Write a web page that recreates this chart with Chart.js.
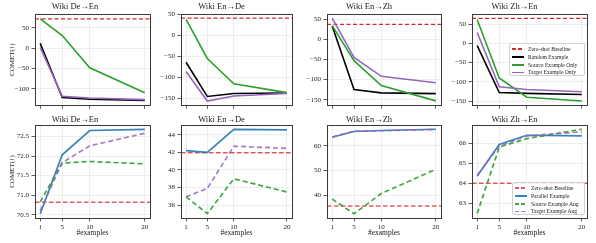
<!DOCTYPE html>
<html><head><meta charset="utf-8">
<script src="https://cdn.jsdelivr.net/npm/chart.js@4"></script>
<style>
html,body{margin:0;padding:0;background:#fff;}
#wrap{position:relative;width:596px;height:243px;overflow:hidden;font-family:'Liberation Serif',serif;}
canvas.pan{position:absolute;}
.leg{position:absolute;background:rgba(255,255,255,0.85);border:0.8px solid #d0d0d0;border-radius:2px;font-size:5.6px;color:#222;padding:1.2px 2px 0 2px;box-sizing:border-box;}
.leg div{display:flex;align-items:center;height:7.8px;white-space:nowrap;}
.leg .sw{display:inline-block;width:12px;height:1.8px;margin-right:4px;}
</style></head>
<body><div id="wrap"></div>
<script>
// ---- data ----
const X = [1, 5, 10, 20];
const titles = ['Wiki De→En', 'Wiki En→De', 'Wiki En→Zh', 'Wiki Zh→En'];
// top row: COMET with single-type examples
const zeroShotTop = [72, 40.5, 37, 64.6];
const randomEx   = [[12, -121, -125, -128], [-64, -145, -138, -137], [33, -125, -133, -135], [-6, -128, -130, -133]];
const sourceOnly = [[72, 31, -48, -109], [38, -55, -115, -136], [34, -53, -115, -153], [61, -90, -140, -150]];
const targetOnly = [[2, -118, -122, -126], [-86, -156, -144, -138], [53, -45, -92, -108], [28, -113, -120, -126]];
// bottom row: COMET with parallel / augmented examples
const zeroShotBottom = [70.82, 41.96, 35.8, 64.0];
const parallelEx = [[70.53, 72.03, 72.65, 72.68], [42.2, 42.0, 44.6, 44.55], [63.4, 65.7, 66.1, 66.6], [64.36, 65.93, 66.39, 66.36]];
const sourceAug  = [[70.83, 71.82, 71.86, 71.80], [36.95, 35.05, 39.0, 37.5], [38.6, 32.7, 40.8, 50.5], [62.49, 65.8, 66.22, 66.69]];
const targetAug  = [[70.61, 71.83, 72.26, 72.58], [36.95, 37.9, 42.7, 42.45], [63.5, 65.8, 66.0, 66.5], [64.4, 65.85, 66.36, 66.56]];
// axis ticks
const topYTicks = [[-100, -50, 0, 50], [-150, -100, -50, 0, 50], [-150, -100, -50, 0, 50], [-150, -100, -50, 0, 50]];
const botYTicks = [[70.5, 71.0, 71.5, 72.0, 72.5], [36, 38, 40, 42, 44], [40, 50, 60], [63, 64, 65, 66]];
const topYRange = [[-140, 84], [-166, 50.5], [-164, 63], [-161, 76]];
const botYRange = [[70.42, 72.79], [34.55, 45.1], [31.0, 68.3], [62.27, 66.9]];
const topLegend = ['Zero-shot Baseline', 'Random Example', 'Source Example Only', 'Target Example Only'];
const botLegend = ['Zero-shot Baseline', 'Parallel Example', 'Source Example Aug', 'Target Example Aug'];

// ---- layout ----
const FONT = "'Liberation Serif', serif";
const XMIN = 0.05, XMAX = 20.95;
const L = [35, 181, 327, 472], R = [150, 292, 441, 587];
const RED = '#d62728', GREEN = '#2ca02c', PURPLE = '#9467bd', BLUE = '#1f77b4', BLACK = '#000000';
const RED_A = 'rgba(214,39,40,0.75)', GREEN_A = 'rgba(44,160,44,0.9)', PURPLE_A = 'rgba(148,103,189,0.85)', BLUE_A = 'rgba(31,119,180,0.9)';
const wrap = document.getElementById('wrap');

const framePlugin = {
  id: 'frame',
  afterDraw(chart) {
    const a = chart.chartArea, c = chart.ctx;
    c.save(); c.strokeStyle = '#3a3a3a'; c.lineWidth = 1;
    c.strokeRect(Math.round(a.left) + 0.5, Math.round(a.top) + 0.5, Math.round(a.right - a.left), Math.round(a.bottom - a.top));
    c.restore();
  }
};

function pts(arr) { return X.map((x, i) => ({ x: x, y: arr[i] })); }

function makePanel(row, col) {
  const top = row === 0;
  const canvasLeft = col === 0 ? 0 : L[col] - 30;
  const yw = L[col] - canvasLeft;
  const w = R[col] - canvasLeft + 3;
  const ctop = top ? 0 : 113;
  const h = top ? 112 : 130;
  const xh = top ? h - 107 : 243 - 218;
  const cv = document.createElement('canvas');
  cv.className = 'pan';
  cv.width = w; cv.height = h;
  cv.style.left = canvasLeft + 'px'; cv.style.top = ctop + 'px';
  cv.style.width = w + 'px'; cv.style.height = h + 'px';
  wrap.appendChild(cv);

  const base = top ? zeroShotTop[col] : zeroShotBottom[col];
  let datasets;
  if (top) {
    datasets = [
      { label: topLegend[0], data: [{ x: XMIN, y: base }, { x: XMAX, y: base }], borderColor: RED, borderDash: [4, 2.5], borderWidth: 1.3, order: 4 },
      { label: topLegend[1], data: pts(randomEx[col]), borderColor: BLACK, borderWidth: 1.6, order: 3 },
      { label: topLegend[2], data: pts(sourceOnly[col]), borderColor: GREEN, borderWidth: 1.6, order: 2 },
      { label: topLegend[3], data: pts(targetOnly[col]), borderColor: PURPLE, borderWidth: 1.6, order: 1 }
    ];
  } else {
    datasets = [
      { label: botLegend[0], data: [{ x: XMIN, y: base }, { x: XMAX, y: base }], borderColor: RED_A, borderDash: [4.5, 2.5], borderWidth: 1.6, order: 4 },
      { label: botLegend[1], data: pts(parallelEx[col]), borderColor: BLUE_A, borderWidth: 1.7, order: 3 },
      { label: botLegend[2], data: pts(sourceAug[col]), borderColor: GREEN_A, borderDash: [5, 3], borderWidth: 1.7, order: 2 },
      { label: botLegend[3], data: pts(targetAug[col]), borderColor: PURPLE_A, borderDash: [5, 3], borderWidth: 1.7, order: 1 }
    ];
  }
  datasets.forEach(d => { d.pointRadius = 0; d.fill = false; d.tension = 0; d.backgroundColor = d.borderColor; });

  const yt = top ? topYTicks[col] : botYTicks[col];
  const yr = top ? topYRange[col] : botYRange[col];
  const dec = (!top && col === 0) ? 1 : 0;

  new Chart(cv, {
    type: 'line',
    data: { datasets: datasets },
    plugins: [framePlugin],
    options: {
      responsive: false, animation: false, devicePixelRatio: 1,
      layout: { padding: { left: 0, right: 3, top: 0, bottom: 0 } },
      plugins: {
        legend: { display: false }, tooltip: { enabled: false },
        title: { display: true, text: titles[col], color: '#222', font: { family: FONT, size: 8.5, weight: 'normal' },
                 padding: top ? { top: 2, bottom: 1.8 } : { top: 1.4, bottom: 0.4 } }
      },
      scales: {
        x: {
          type: 'linear', min: XMIN, max: XMAX,
          afterBuildTicks: s => { s.ticks = X.map(v => ({ value: v })); },
          afterFit: s => { s.height = xh; },
          grid: { color: '#e6e6e6', lineWidth: 0.7, tickColor: '#333', tickLength: 3.5, tickWidth: 0.8 },
          border: { display: false },
          ticks: { display: !top, color: '#222', padding: 1, maxRotation: 0, font: { family: FONT, size: 7 } },
          title: { display: !top, text: '#examples', color: '#222', font: { family: FONT, size: 7.5 }, padding: { top: 0, bottom: 5 } }
        },
        y: {
          min: yr[0], max: yr[1],
          afterBuildTicks: s => { s.ticks = yt.map(v => ({ value: v })); },
          afterFit: s => { s.width = yw; },
          grid: { color: '#e6e6e6', lineWidth: 0.7, tickColor: '#333', tickLength: 3.5, tickWidth: 0.8 },
          border: { display: false },
          ticks: { color: '#222', padding: 2.5, font: { family: FONT, size: 7 },
                   callback: v => (dec ? Number(v).toFixed(1) : String(v)).replace('-', '−') },
          title: { display: col === 0, text: 'COMET(↑)', color: '#222', font: { family: FONT, size: 7 }, padding: { top: 7.5, bottom: 0 } }
        }
      }
    }
  });
}

for (let r = 0; r < 2; r++) for (let c = 0; c < 4; c++) makePanel(r, c);

function makeLegend(labels, styles, left, topPx, width, height) {
  const d = document.createElement('div');
  d.className = 'leg';
  d.style.left = left + 'px'; d.style.top = topPx + 'px'; d.style.width = width + 'px'; d.style.height = height + 'px';
  labels.forEach((lab, i) => {
    const row = document.createElement('div');
    const sw = document.createElement('span');
    sw.className = 'sw';
    const c = styles[i].c;
    sw.style.background = styles[i].dash
      ? 'repeating-linear-gradient(to right,' + c + ' 0 4px, transparent 4px 6px)'
      : c;
    row.appendChild(sw);
    row.appendChild(document.createTextNode(lab));
    d.appendChild(row);
  });
  wrap.appendChild(d);
}
makeLegend(topLegend, [{ c: RED, dash: true }, { c: BLACK }, { c: GREEN }, { c: PURPLE }], 509, 43, 76, 33);
makeLegend(botLegend, [{ c: RED_A, dash: true }, { c: BLUE_A }, { c: GREEN_A, dash: true }, { c: PURPLE_A, dash: true }], 512, 182, 73, 33);
</script>
</body></html>
